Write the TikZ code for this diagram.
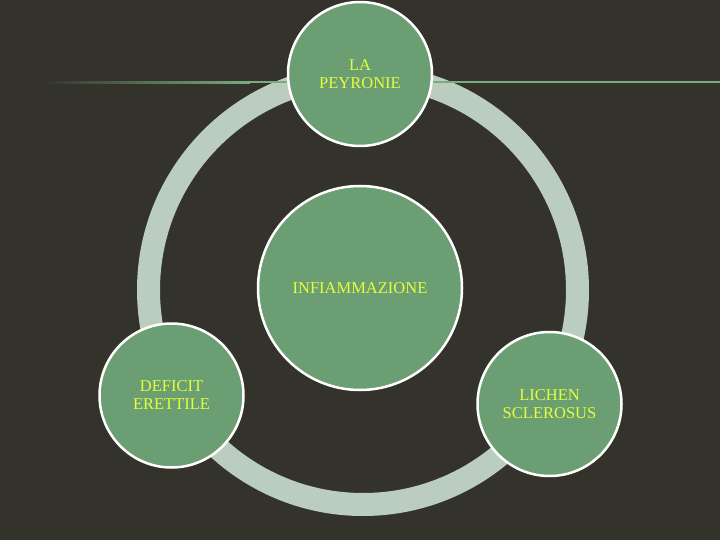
\documentclass[tikz,border=0pt]{standalone}
\usepackage{fontspec}
\setmainfont{Liberation Serif}
\definecolor{bg}{HTML}{33332B}
\definecolor{ringc}{HTML}{BBCDBF}
\definecolor{circfill}{HTML}{6C9E73}
\definecolor{lineg}{HTML}{7AAA80}
\definecolor{txt}{HTML}{E2FF3C}
\tikzset{
  bubble/.style={circle, fill=circfill, draw=white, line width=2.5pt, inner sep=0pt,
    text=txt, align=center, font=\fontsize{16.5}{18}\selectfont},
}
\begin{document}
\begin{tikzpicture}[x=1pt,y=-1pt]
\fill[bg] (0,0) rectangle (720,540);
\useasboundingbox (0,0) rectangle (720,540);
% ring
\draw[ringc, line width=23pt] (363,290) circle (214.5pt);
% horizontal line
\shade[left color=bg, right color=lineg] (40,81.5) rectangle (250,83.5);
\fill[lineg] (250,81.5) rectangle (720,83.5);
% circles
\node[bubble, minimum size=204pt] (center) at (360,288) {INFIAMMAZIONE};
\node[bubble, minimum size=144pt] (top) at (360,74) {LA\\PEYRONIE};
\node[bubble, minimum size=144pt] (left) at (171.5,395.5) {DEFICIT\\ERETTILE};
\node[bubble, minimum size=144pt] (right) at (549.5,404) {LICHEN\\SCLEROSUS};
\end{tikzpicture}
\end{document}
